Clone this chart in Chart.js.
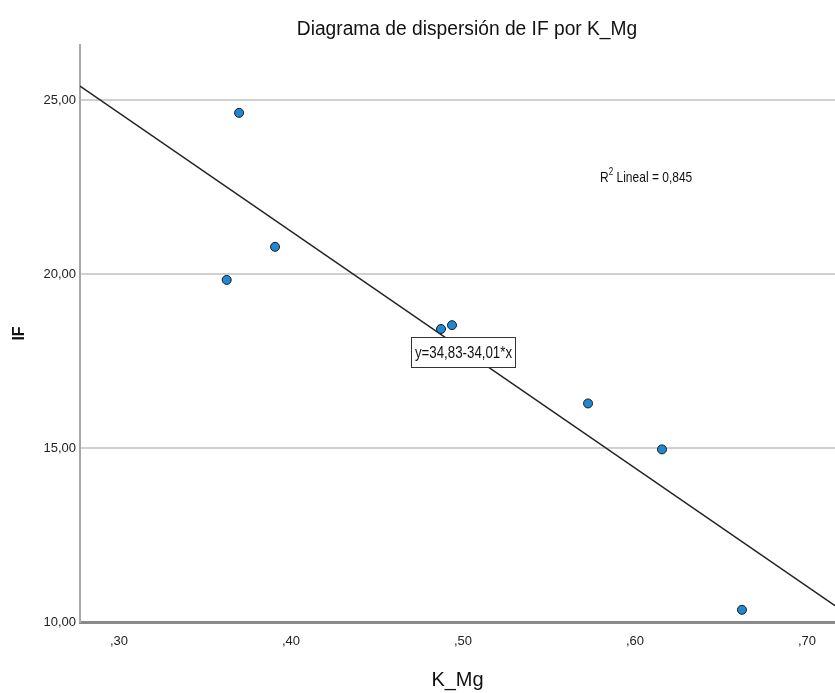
<!DOCTYPE html>
<html>
<head>
<meta charset="utf-8">
<title>Diagrama de dispersión de IF por K_Mg</title>
<script src="https://cdn.jsdelivr.net/npm/chart.js@4.4.0/dist/chart.umd.min.js"></script>
<style>
  html, body { margin: 0; padding: 0; background: #fff; }
  #wrap { width: 835px; height: 693px; }
</style>
</head>
<body>
<div id="wrap"><canvas id="chart" width="835" height="693"></canvas></div>
<script>
// data
const kMg = [0.3626, 0.3698, 0.3907, 0.4872, 0.4936, 0.5727, 0.6157, 0.6622];
const ifValues = [19.83, 24.63, 20.78, 18.42, 18.53, 16.28, 14.96, 10.35];

const xTicks = [0.3, 0.4, 0.5, 0.6, 0.7];
const xTickLabels = [',30', ',40', ',50', ',60', ',70'];
const yTicks = [10, 15, 20, 25];
const yTickLabels = ['10,00', '15,00', '20,00', '25,00'];

const xRange = [0.2773, 0.7163];
const yRange = [10, 26.58];

// linear fit shown on the chart
const fitIntercept = 34.83;
const fitSlope = -34.01;
const fitLabel = 'y=34,83-34,01*x';
const r2Value = '0,845';

const FONT = '"Liberation Sans", Arial, sans-serif';
Chart.defaults.font.family = FONT;
Chart.defaults.color = '#222';

const fitLine = xRange.map(x => ({ x: x, y: fitIntercept + fitSlope * x }));

// SPSS uses a narrow face, squeeze the text a bit
function narrowText(ctx, text, x, y, sx) {
    ctx.save();
    ctx.translate(x, y);
    ctx.scale(sx, 1);
    ctx.fillText(text, 0, 0);
    ctx.restore();
}

// title, R2 text and equation box
const spssText = {
    id: 'spssText',
    afterDraw(chart) {
        const ctx = chart.ctx;
        const xs = chart.scales.x;
        const ys = chart.scales.y;
        ctx.save();

        ctx.fillStyle = '#111';
        ctx.font = '20px ' + FONT;
        ctx.textAlign = 'center';
        ctx.textBaseline = 'middle';
        narrowText(ctx, 'Diagrama de dispersión de IF por K_Mg', 467, 29, 0.96);

        // R2 Lineal
        const sq = 0.8;
        let rx = xs.getPixelForValue(0.5797);
        let ry = ys.getPixelForValue(22.64);
        ctx.textAlign = 'left';
        ctx.textBaseline = 'alphabetic';
        ctx.font = '15px ' + FONT;
        narrowText(ctx, 'R', rx, ry, sq);
        rx += ctx.measureText('R').width * sq;
        ctx.font = '10px ' + FONT;
        narrowText(ctx, '2', rx, ry - 7, sq);
        rx += ctx.measureText('2').width * sq;
        ctx.font = '15px ' + FONT;
        narrowText(ctx, ' Lineal = ' + r2Value, rx, ry, sq);

        // equation box
        const bx = Math.round(xs.getPixelForValue(0.4698)) + 0.5;
        const by = Math.round(ys.getPixelForValue(18.19)) + 0.5;
        const bw = 104, bh = 30;
        ctx.fillStyle = '#fff';
        ctx.fillRect(bx, by, bw, bh);
        ctx.strokeStyle = '#333';
        ctx.lineWidth = 1;
        ctx.strokeRect(bx, by, bw, bh);
        ctx.fillStyle = '#111';
        ctx.font = '16px ' + FONT;
        ctx.textAlign = 'center';
        ctx.textBaseline = 'middle';
        narrowText(ctx, fitLabel, bx + bw / 2, by + bh / 2 + 1, 0.83);

        ctx.restore();
    }
};

const ctx = document.getElementById('chart').getContext('2d');
new Chart(ctx, {
    type: 'scatter',
    data: {
        datasets: [
            {
                label: 'IF',
                data: kMg.map((x, i) => ({ x: x, y: ifValues[i] })),
                backgroundColor: '#1e87d6',
                borderColor: '#1a1a1a',
                borderWidth: 1,
                pointRadius: 4.5,
                order: 0
            },
            {
                type: 'line',
                label: 'Lineal',
                data: fitLine,
                borderColor: '#222',
                borderWidth: 1.5,
                pointRadius: 0,
                fill: false,
                order: 1
            }
        ]
    },
    options: {
        responsive: false,
        animation: false,
        devicePixelRatio: 1,
        layout: { autoPadding: false, padding: { top: 45, left: 0, right: 0, bottom: 0 } },
        plugins: {
            legend: { display: false },
            tooltip: { enabled: false },
            title: { display: false }
        },
        scales: {
            x: {
                type: 'linear',
                min: xRange[0],
                max: xRange[1],
                afterBuildTicks: s => { s.ticks = xTicks.map(v => ({ value: v })); },
                afterFit: s => { s.height = 71; },
                ticks: {
                    callback: (v, i) => xTickLabels[i],
                    font: { size: 13 },
                    padding: 12,
                    maxRotation: 0,
                    autoSkip: false
                },
                grid: { display: false, drawTicks: false },
                border: { display: true, color: '#8a8a8a', width: 3 },
                title: {
                    display: true,
                    text: 'K_Mg',
                    font: { size: 20 },
                    color: '#111',
                    padding: { top: 0, bottom: 1 }
                }
            },
            y: {
                type: 'linear',
                min: yRange[0],
                max: yRange[1],
                afterBuildTicks: s => { s.ticks = yTicks.map(v => ({ value: v })); },
                afterFit: s => { s.width = 80; },
                ticks: {
                    callback: (v, i) => yTickLabels[i],
                    font: { size: 13 },
                    padding: 4
                },
                grid: {
                    color: c => (c.tick && c.tick.value === 10) ? 'rgba(0,0,0,0)' : '#d0d0d0',
                    lineWidth: 2,
                    drawTicks: false
                },
                border: { display: true, color: '#a8a8a8', width: 2 },
                title: {
                    display: true,
                    text: 'IF',
                    font: { size: 16, weight: 'bold' },
                    color: '#111',
                    padding: { top: 10, bottom: 0 }
                }
            }
        }
    },
    plugins: [spssText]
});
</script>
</body>
</html>
